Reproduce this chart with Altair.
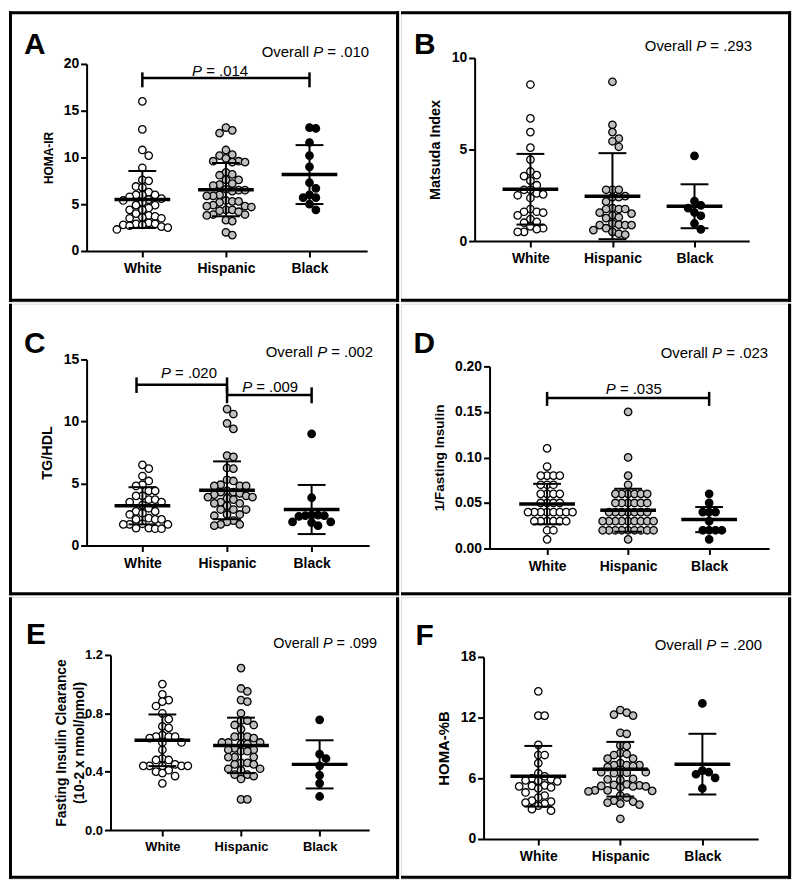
import altair as alt
import pandas as pd

GROUPS = ["White", "Hispanic", "Black"]
FILLS = ["#ffffff", "#bfbfbf", "#000000"]
LETTERS = ["A", "B", "C", "D", "E", "F"]
P_OVERALL = [".010", ".293", ".002", ".023", ".099", ".200"]
YTITLES = ["HOMA-IR", "Matsuda Index", "TG/HDL", "1/Fasting Insulin",
           ["Fasting Insulin Clearance", "(10-2 x nmol/pmol)"], "HOMA-%B"]
YTICKS = [[0, 5, 10, 15, 20], [0, 5, 10], [0, 5, 10, 15],
          [0, 0.05, 0.10, 0.15, 0.20], [0, 0.4, 0.8, 1.2], [0, 6, 12, 18]]

# ---- Panel A: HOMA-IR
A_white = [16.0, 13.0, 10.8, 10.2, 8.9, 7.6, 7.5, 6.9, 6.8, 6.3, 6.0, 6.0, 6.0, 5.8, 5.6, 5.5, 5.4,
           5.2, 4.9, 4.9, 4.6, 4.4, 4.4, 4.0, 3.8, 3.7, 3.6, 3.5, 3.5, 3.0, 2.9, 2.9, 2.8, 2.8, 2.7,
           2.6, 2.5, 2.3]
A_hisp = [13.2, 12.9, 12.6, 10.8, 10.3, 10.2, 9.9, 9.6, 9.6, 9.5, 9.5, 8.4, 8.2, 8.1, 7.6, 7.6, 7.2,
          7.1, 7.0, 6.6, 6.5, 6.5, 6.4, 6.0, 5.9, 5.9, 5.4, 5.3, 5.3, 5.2, 4.9, 4.8, 4.8, 4.7, 4.4,
          4.4, 4.3, 4.2, 3.9, 3.9, 3.8, 3.3, 3.2, 2.0, 1.7]
A_black = [13.2, 13.1, 11.6, 10.2, 9.0, 7.3, 6.7, 6.0, 5.7, 5.7, 5.0, 4.4]
A_mean = [5.5, 6.56, 8.17]
A_sd = [3.05, 2.85, 3.15]
A_brackets = [{"x1": 0, "x2": 2, "lvl": 18.5, "t0": 17.5, "t1": 19.1, "xc": 0.93, "ly": 18.75, "lab": "= .014"}]

# ---- Panel B: Matsuda index
B_white = [8.55, 6.7, 5.95, 5.1, 4.45, 3.8, 3.6, 3.55, 3.3, 3.05, 2.8, 2.8, 2.6, 2.55, 2.5, 2.35,
           1.75, 1.6, 1.6, 1.55, 1.4, 1.2, 1.05, 1.0, 0.8, 0.7, 0.65, 0.5, 0.5]
B_hisp = [8.7, 6.35, 5.95, 5.6, 5.45, 5.15, 2.8, 2.8, 2.8, 2.45, 2.4, 2.4, 2.15, 1.8, 1.75, 1.75,
          1.75, 1.55, 1.5, 1.4, 1.3, 1.25, 0.96, 0.9, 0.87, 0.87, 0.87, 0.7, 0.6, 0.5, 0.4, 0.35]
B_black = [4.65, 2.18, 1.95, 1.8, 1.56, 1.38, 0.96, 0.64]
B_mean = [2.83, 2.45, 1.9]
B_sd = [1.93, 2.35, 1.2]
B_brackets = []

# ---- Panel C: TG/HDL
C_white = [6.5, 6.2, 5.6, 5.2, 4.9, 4.8, 4.4, 4.4, 4.0, 4.0, 3.7, 3.7, 3.5, 3.5, 3.25, 3.0, 2.75,
           2.75, 2.6, 2.5, 2.2, 2.1, 2.1, 2.1, 1.75, 1.7, 1.7, 1.7, 1.4, 1.4, 1.35, 1.35]
C_hisp = [11.0, 10.6, 9.85, 9.4, 7.25, 7.15, 6.25, 6.2, 5.3, 5.2, 4.9, 4.8, 4.8, 4.8, 4.4, 4.3,
          4.3, 4.2, 4.1, 4.0, 3.9, 3.9, 3.8, 3.7, 3.5, 3.4, 3.4, 3.2, 2.9, 2.9, 2.9, 2.5, 2.5, 2.4,
          2.0, 1.9, 1.7, 1.7, 1.6]
C_black = [9.0, 3.85, 2.45, 2.45, 2.4, 2.4, 2.35, 1.9, 1.9, 1.85, 1.6]
C_mean = [3.2, 4.45, 2.9]
C_sd = [1.5, 2.33, 1.98]
C_brackets = [
    {"x1": -0.07, "x2": 1, "lvl": 12.95, "t0": 12.3, "t1": 13.55, "xc": 0.55, "ly": 13.47, "lab": "= .020"},
    {"x1": 1, "x2": 2, "lvl": 12.13, "t0": 11.47, "t1": 12.75, "xc": 1.51, "ly": 12.38, "lab": "= .009"},
]

# ---- Panel D: 1/Fasting insulin
D_white = [0.11, 0.09, 0.08, 0.08, 0.08, 0.08, 0.07, 0.07, 0.07, 0.06, 0.06, 0.06, 0.06, 0.05,
           0.05, 0.05, 0.05, 0.04, 0.04, 0.04, 0.04, 0.04, 0.04, 0.04, 0.04, 0.03, 0.03, 0.03,
           0.03, 0.03, 0.03, 0.02, 0.02, 0.01]
D_hisp = [0.15, 0.10, 0.08, 0.07, 0.06, 0.06, 0.06, 0.06, 0.06, 0.06, 0.05, 0.05, 0.05, 0.05,
          0.05, 0.05, 0.04, 0.04, 0.04, 0.04, 0.04, 0.04, 0.04, 0.03, 0.03, 0.03, 0.03, 0.03,
          0.03, 0.03, 0.03, 0.03, 0.02, 0.02, 0.02, 0.02, 0.02, 0.02, 0.02, 0.02, 0.02, 0.01]
D_black = [0.06, 0.05, 0.04, 0.04, 0.04, 0.03, 0.02, 0.02, 0.02, 0.02, 0.01]
D_mean = [0.0488, 0.042, 0.0317]
D_sd = [0.0222, 0.0236, 0.0138]
D_brackets = [{"x1": 0, "x2": 2, "lvl": 0.1654, "t0": 0.1566, "t1": 0.172, "xc": 1.07, "ly": 0.1694, "lab": "= .035"}]

# ---- Panel E: fasting insulin clearance
E_white = [1.0, 0.93, 0.89, 0.88, 0.85, 0.80, 0.76, 0.71, 0.70, 0.65, 0.64, 0.64, 0.64, 0.63, 0.60,
           0.60, 0.55, 0.49, 0.48, 0.48, 0.45, 0.44, 0.44, 0.44, 0.44, 0.44, 0.41, 0.40, 0.39, 0.37,
           0.32]
E_hisp = [1.11, 0.97, 0.95, 0.89, 0.88, 0.80, 0.75, 0.75, 0.72, 0.72, 0.69, 0.64, 0.64, 0.64, 0.63,
          0.60, 0.60, 0.60, 0.59, 0.59, 0.56, 0.55, 0.55, 0.54, 0.54, 0.50, 0.50, 0.50, 0.46, 0.46,
          0.45, 0.45, 0.42, 0.42, 0.41, 0.38, 0.38, 0.37, 0.35, 0.21, 0.21]
E_black = [0.755, 0.52, 0.49, 0.44, 0.375, 0.32, 0.23]
E_mean = [0.615, 0.58, 0.45]
E_sd = [0.177, 0.19, 0.165]
E_brackets = []

# ---- Panel F: HOMA-%B
F_white = [14.6, 12.2, 12.2, 9.3, 8.3, 8.3, 7.5, 6.5, 6.2, 6.0, 5.9, 5.8, 5.75, 5.7, 5.3, 5.25,
           5.2, 5.1, 5.0, 4.6, 4.3, 4.1, 3.8, 3.7, 3.6, 3.5, 3.3, 2.95, 2.8]
F_hisp = [12.75, 12.5, 12.3, 12.2, 10.5, 10.4, 9.25, 9.2, 8.5, 8.4, 8.3, 7.95, 7.95, 7.5, 7.3,
          7.3, 7.3, 7.2, 7.1, 6.6, 6.6, 6.6, 6.55, 6.5, 5.95, 5.9, 5.85, 5.4, 5.35, 5.3, 5.25, 5.2,
          5.2, 5.1, 4.8, 4.8, 4.75, 4.7, 4.3, 4.1, 3.8, 3.7, 3.6, 3.5, 3.4, 2.0]
F_black = [13.4, 6.75, 6.6, 6.4, 6.05, 5.0]
F_mean = [6.2, 6.9, 7.4]
F_sd = [3.0, 2.7, 3.0]
F_brackets = []

PANELS = [
    ([A_white, A_hisp, A_black], A_mean, A_sd, A_brackets),
    ([B_white, B_hisp, B_black], B_mean, B_sd, B_brackets),
    ([C_white, C_hisp, C_black], C_mean, C_sd, C_brackets),
    ([D_white, D_hisp, D_black], D_mean, D_sd, D_brackets),
    ([E_white, E_hisp, E_black], E_mean, E_sd, E_brackets),
    ([F_white, F_hisp, F_black], F_mean, F_sd, F_brackets),
]

# ---- geometry / styling (pixels, relative to each panel box)
# edges: which border sides this panel draws (shared dividers are drawn once)
GEO = [
    dict(Wv=392, Hv=292, L=78, W=282, T=53, H=188, xmin=-0.667, xmax=2.69, ymax=20, fmt="d",
         tx=-38.7, lx=15, ly=43, ox=362, oy=46.5, tfs=12, lfs=14, xfs=14, ofs=15,
         edges="tlrb"),
    dict(Wv=392, Hv=292, L=74, W=276, T=47, H=184, xmin=-0.68, xmax=2.667, ymax=10, fmt="d",
         tx=-39, lx=13, ly=43, ox=353, oy=40, tfs=14.5, lfs=14, xfs=14, ofs=15,
         edges="trb"),
    dict(Wv=392, Hv=293, L=78, W=284, T=56, H=187, xmin=-0.66, xmax=2.68, ymax=15, fmt="d",
         tx=-39.3, lx=15, ly=50, ox=366, oy=53.3, tfs=14.5, lfs=14, xfs=14, ofs=15,
         edges="lrb"),
    dict(Wv=392, Hv=293, L=89, W=281, T=63, H=183, xmin=-0.71, xmax=2.74, ymax=0.2, fmt=".2f",
         tx=-50.7, lx=12.5, ly=50, ox=369, oy=55, tfs=13.6, lfs=14, xfs=14, ofs=15,
         edges="rb"),
    dict(Wv=392, Hv=283, L=102, W=260, T=58, H=176, xmin=-0.66, xmax=2.63, ymax=1.2, fmt=".1f",
         tx=-49, lx=17, ly=47, ox=370, oy=51, tfs=13.9, lfs=13, xfs=13, ofs=14.5,
         edges="lrb"),
    dict(Wv=392, Hv=283, L=83, W=276, T=60, H=183, xmin=-0.667, xmax=2.68, ymax=18, fmt="d",
         tx=-40, lx=14.5, ly=48, ox=363, oy=53, tfs=15, lfs=14, xfs=14, ofs=15,
         edges="rb"),
]

FONT = "Liberation Sans"
BORDER = 3
AR = {"O": 778, "v": 500, "e": 556, "r": 333, "a": 556, "l": 222, " ": 278, "P": 667,
      "=": 584, ".": 278}


def text_w(s, fs):
    return sum(AR.get(ch, 556) for ch in s) * fs / 1000.0


def swarm(vals, ppu_y, step=6.4, min_dy=7.2):
    order = sorted(range(len(vals)), key=lambda i: -vals[i])
    placed = []
    offs = [0.0] * len(vals)
    cands = [0]
    for k in range(1, 40):
        cands += [k, -k]
    for i in order:
        y = vals[i] * ppu_y
        x = 0.0
        for c in cands:
            x = c * step
            if all(abs(py - y) >= min_dy or abs(px - x) >= step * 0.99 for px, py in placed):
                break
        placed.append((x, y))
        offs[i] = x
    return offs


def make_panel(k):
    groups, means, sds, brackets = PANELS[k]
    g = GEO[k]
    Wv, Hv, L, W, T, H = g["Wv"], g["Hv"], g["L"], g["W"], g["T"], g["H"]
    ppu_x = W / (g["xmax"] - g["xmin"])
    ppu_y = H / g["ymax"]

    xs = alt.Scale(domain=[g["xmin"], g["xmax"]], range=[L, L + W], nice=False, zero=False)
    ys = alt.Scale(domain=[0, g["ymax"]], range=[T + H, T], nice=False, zero=False)
    xaxis = alt.Axis(values=[0, 1, 2], labelExpr="['White','Hispanic','Black'][datum.value]",
                     title=None, grid=False, domainColor="black", domainWidth=2,
                     tickColor="black", tickWidth=2, tickSize=6, labelColor="black",
                     labelFontSize=g["xfs"], labelFontWeight="bold", labelPadding=5,
                     labelOverlap=False, labelFlush=False, labelFont=FONT,
                     offset=(T + H) - Hv)
    yaxis = alt.Axis(values=YTICKS[k], format=g["fmt"], title=YTITLES[k], grid=False,
                     domainColor="black", domainWidth=2, tickColor="black", tickWidth=2,
                     tickSize=6, labelColor="black", labelFontSize=g["lfs"],
                     labelFontWeight="bold", labelPadding=2, labelFlush=False,
                     labelOverlap=False, labelFont=FONT, offset=-L,
                     titleFont=FONT, titleFontSize=g["tfs"], titleFontWeight="bold",
                     titleColor="black", titleAngle=270, titleX=g["tx"], titleY=T + H / 2,
                     titleAlign="center", titleBaseline="middle", titleLineHeight=18)

    def X(f):
        return alt.X(f, type="quantitative", scale=xs, axis=xaxis)

    def Y(f):
        return alt.Y(f, type="quantitative", scale=ys, axis=yaxis)

    rows = []
    for gi, vals in enumerate(groups):
        offs = swarm(vals, ppu_y)
        for v, o in zip(vals, offs):
            rows.append({"xo": gi + o / ppu_x, "v": v, "g": GROUPS[gi]})
    pts_df = pd.DataFrame(rows)

    stats = pd.DataFrame({"idx": [0, 1, 2], "mean": means,
                          "lo": [m - s for m, s in zip(means, sds)],
                          "hi": [m + s for m, s in zip(means, sds)]})
    caps = pd.DataFrame({"idx": [0, 1, 2, 0, 1, 2],
                         "c": list(stats["lo"]) + list(stats["hi"])})
    one = pd.DataFrame({"a": [0]})

    layers = []
    # panel border edges as filled bars (exact bounds, no stroke overhang)
    edge_boxes = {
        "t": (0, Wv, 0, BORDER),
        "b": (0, Wv, Hv - BORDER, Hv),
        "l": (0, BORDER, 0, Hv),
        "r": (Wv - BORDER, Wv, 0, Hv),
    }
    for e in g["edges"]:
        x1, x2, y1, y2 = edge_boxes[e]
        layers.append(alt.Chart(one).mark_rect(color="black", opacity=1).encode(
            x=alt.value(x1), x2=alt.value(x2), y=alt.value(y1), y2=alt.value(y2)))

    layers.append(alt.Chart(pts_df).mark_point(shape="circle", filled=True, opacity=1,
                                               stroke="black", strokeWidth=1.3).encode(
        x=X("xo"), y=Y("v"),
        fill=alt.Fill("g:N", scale=alt.Scale(domain=GROUPS, range=FILLS), legend=None),
        size=alt.Size("g:N", scale=alt.Scale(domain=GROUPS, range=[56, 56, 46]), legend=None)))

    layers.append(alt.Chart(stats).mark_rule(strokeWidth=2, color="black").encode(
        x=X("idx"), y=Y("lo"), y2=alt.Y2("hi")))
    layers.append(alt.Chart(caps).mark_tick(orient="horizontal", size=28, thickness=2,
                                            color="black", opacity=1).encode(x=X("idx"), y=Y("c")))
    layers.append(alt.Chart(stats).mark_tick(orient="horizontal", size=56, thickness=3.5,
                                             color="black", opacity=1).encode(x=X("idx"), y=Y("mean")))

    if brackets:
        bdf = pd.DataFrame(brackets)
        ends = pd.DataFrame({"xt": list(bdf["x1"]) + list(bdf["x2"]),
                             "t0": list(bdf["t0"]) * 2, "t1": list(bdf["t1"]) * 2})
        layers.append(alt.Chart(bdf).mark_rule(strokeWidth=2.5, color="black").encode(
            x=X("x1"), x2=alt.X2("x2"), y=Y("lvl")))
        layers.append(alt.Chart(ends).mark_rule(strokeWidth=2.5, color="black").encode(
            x=X("xt"), y=Y("t0"), y2=alt.Y2("t1")))
        fs = 15
        total = text_w("P", fs) + text_w(" ", fs) + text_w(bdf["lab"][0], fs)
        dx0 = -total / 2
        layers.append(alt.Chart(bdf).mark_text(text="P", fontStyle="italic", fontSize=fs,
                                               align="left", baseline="alphabetic", dx=dx0,
                                               color="black", font=FONT).encode(
            x=X("xc"), y=Y("ly")))
        layers.append(alt.Chart(bdf).mark_text(fontSize=fs, align="left", baseline="alphabetic",
                                               dx=dx0 + text_w("P ", fs), color="black",
                                               font=FONT).encode(
            x=X("xc"), y=Y("ly"), text="lab:N"))

    layers.append(alt.Chart(one).mark_text(text=LETTERS[k], fontSize=30, fontWeight="bold",
                                           align="left", baseline="alphabetic", color="black",
                                           font=FONT).encode(
        x=alt.value(g["lx"]), y=alt.value(g["ly"])))

    ofs = g["ofs"]
    rest = "= " + P_OVERALL[k]
    total = text_w("Overall", ofs) + text_w(" ", ofs) * 2 + text_w("P", ofs) + text_w(rest, ofs)
    x0 = g["ox"] - total
    xp = x0 + text_w("Overall", ofs) + text_w(" ", ofs)
    xr = xp + text_w("P", ofs) + text_w(" ", ofs)
    for txt, xx, style in [("Overall", x0, "normal"), ("P", xp, "italic"), (rest, xr, "normal")]:
        layers.append(alt.Chart(one).mark_text(text=txt, fontSize=ofs, fontStyle=style,
                                               align="left", baseline="alphabetic",
                                               color="black", font=FONT).encode(
            x=alt.value(xx), y=alt.value(g["oy"])))

    return alt.layer(*layers).properties(width=Wv, height=Hv)


panels = [make_panel(k) for k in range(6)]
row1 = alt.hconcat(panels[0], panels[1], spacing=0)
row2 = alt.hconcat(panels[2], panels[3], spacing=0)
row3 = alt.hconcat(panels[4], panels[5], spacing=0)
chart = alt.vconcat(row1, row2, row3, spacing=0).properties(
    padding=0, background="white"
).configure_view(stroke="transparent").configure(font=FONT)

chart.save("out.html", embed_options={"renderer": "svg", "actions": False})
